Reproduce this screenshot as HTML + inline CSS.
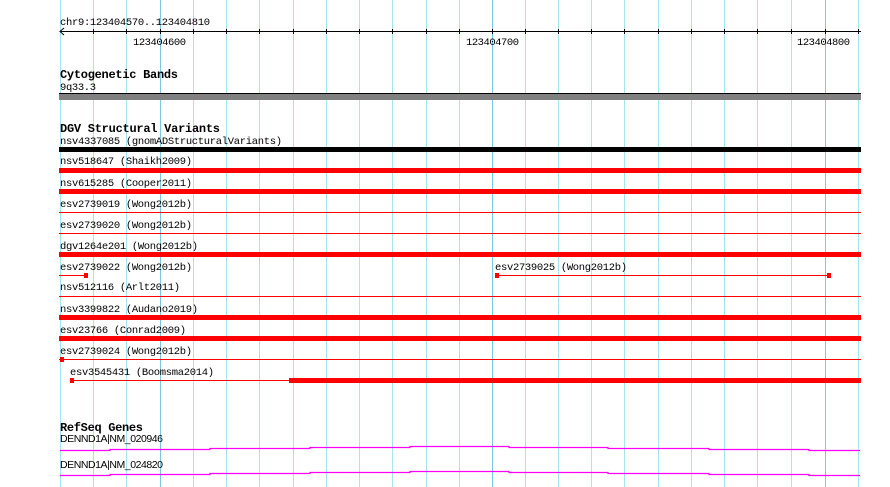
<!DOCTYPE html>
<html><head><meta charset="utf-8"><style>
html,body{margin:0;padding:0;background:#fff;}
svg{display:block;}
text{font-family:"Liberation Mono",monospace;font-size:10.5px;fill:#000;}
.b{font-weight:bold;font-size:12px;}
.g{font-family:"Liberation Sans",sans-serif;font-size:10.5px;}
</style></head><body>
<svg width="890" height="487" xmlns="http://www.w3.org/2000/svg">
<g stroke="#a8e4ec" stroke-width="1">
<line x1="60.5" y1="0" x2="60.5" y2="487"/><line x1="93.5" y1="0" x2="93.5" y2="487"/><line x1="126.5" y1="0" x2="126.5" y2="487"/>
<line x1="193.5" y1="0" x2="193.5" y2="487"/><line x1="226.5" y1="0" x2="226.5" y2="487"/><line x1="259.5" y1="0" x2="259.5" y2="487"/>
<line x1="293.5" y1="0" x2="293.5" y2="487"/><line x1="326.5" y1="0" x2="326.5" y2="487"/><line x1="359.5" y1="0" x2="359.5" y2="487"/>
<line x1="392.5" y1="0" x2="392.5" y2="487"/><line x1="426.5" y1="0" x2="426.5" y2="487"/><line x1="459.5" y1="0" x2="459.5" y2="487"/>
<line x1="525.5" y1="0" x2="525.5" y2="487"/><line x1="558.5" y1="0" x2="558.5" y2="487"/><line x1="591.5" y1="0" x2="591.5" y2="487"/>
<line x1="624.5" y1="0" x2="624.5" y2="487"/><line x1="658.5" y1="0" x2="658.5" y2="487"/><line x1="691.5" y1="0" x2="691.5" y2="487"/>
<line x1="724.5" y1="0" x2="724.5" y2="487"/><line x1="757.5" y1="0" x2="757.5" y2="487"/><line x1="791.5" y1="0" x2="791.5" y2="487"/>
<line x1="858.5" y1="0" x2="858.5" y2="487"/>
</g>
<g stroke="#7cc8e0" stroke-width="1">
<line x1="160.5" y1="0" x2="160.5" y2="487"/><line x1="492.5" y1="0" x2="492.5" y2="487"/><line x1="825.5" y1="0" x2="825.5" y2="487"/>
</g>
<text x="60" y="25" textLength="150">chr9:123404570..123404810</text>
<line x1="60" y1="31.5" x2="861" y2="31.5" stroke="#000"/>
<path d="M64 28 L60 31.5 L64 35" fill="none" stroke="#000"/>
<g stroke="#000">
<line x1="93.5" y1="29" x2="93.5" y2="34"/><line x1="126.5" y1="29" x2="126.5" y2="34"/><line x1="160.5" y1="29" x2="160.5" y2="34"/>
<line x1="193.5" y1="29" x2="193.5" y2="34"/><line x1="226.5" y1="29" x2="226.5" y2="34"/><line x1="259.5" y1="29" x2="259.5" y2="34"/>
<line x1="293.5" y1="29" x2="293.5" y2="34"/><line x1="326.5" y1="29" x2="326.5" y2="34"/><line x1="359.5" y1="29" x2="359.5" y2="34"/>
<line x1="392.5" y1="29" x2="392.5" y2="34"/><line x1="426.5" y1="29" x2="426.5" y2="34"/><line x1="459.5" y1="29" x2="459.5" y2="34"/>
<line x1="492.5" y1="29" x2="492.5" y2="34"/><line x1="525.5" y1="29" x2="525.5" y2="34"/><line x1="558.5" y1="29" x2="558.5" y2="34"/>
<line x1="591.5" y1="29" x2="591.5" y2="34"/><line x1="624.5" y1="29" x2="624.5" y2="34"/><line x1="658.5" y1="29" x2="658.5" y2="34"/>
<line x1="691.5" y1="29" x2="691.5" y2="34"/><line x1="724.5" y1="29" x2="724.5" y2="34"/><line x1="757.5" y1="29" x2="757.5" y2="34"/>
<line x1="791.5" y1="29" x2="791.5" y2="34"/><line x1="825.5" y1="29" x2="825.5" y2="34"/><line x1="858.5" y1="29" x2="858.5" y2="34"/>
</g>
<text x="133" y="45" textLength="53">123404600</text>
<text x="466" y="45" textLength="53">123404700</text>
<text x="797" y="45" textLength="53">123404800</text>

<text class="b" x="60" y="78" textLength="118">Cytogenetic Bands</text>
<text x="60" y="90" textLength="36">9q33.3</text>
<rect x="59" y="93" width="802" height="1" fill="#000"/>
<rect x="59" y="94" width="802" height="6" fill="#808080"/>

<text class="b" x="60" y="132" textLength="160">DGV Structural Variants</text>
<text x="60" y="144" textLength="222">nsv4337085 (gnomADStructuralVariants)</text>
<rect x="59" y="147" width="802" height="5" fill="#000"/>
<text x="60" y="164" textLength="132">nsv518647 (Shaikh2009)</text>
<rect x="59" y="168" width="802" height="5" fill="#f00"/>
<text x="60" y="186" textLength="132">nsv615285 (Cooper2011)</text>
<rect x="59" y="189" width="802" height="5" fill="#f00"/>
<text x="60" y="207" textLength="132">esv2739019 (Wong2012b)</text>
<rect x="59" y="212" width="802" height="1" fill="#f00"/>
<text x="60" y="228" textLength="132">esv2739020 (Wong2012b)</text>
<rect x="59" y="233" width="802" height="1" fill="#f00"/>
<text x="60" y="249" textLength="138">dgv1264e201 (Wong2012b)</text>
<rect x="59" y="252" width="802" height="5" fill="#f00"/>
<text x="60" y="270" textLength="132">esv2739022 (Wong2012b)</text>
<rect x="59" y="275" width="27" height="1" fill="#f00"/>
<rect x="84" y="273" width="4" height="5" fill="#f00"/>
<text x="495" y="270" textLength="132">esv2739025 (Wong2012b)</text>
<rect x="495" y="275" width="334" height="1" fill="#f00"/>
<rect x="495" y="273" width="4" height="5" fill="#f00"/>
<rect x="827" y="273" width="4" height="5" fill="#f00"/>
<text x="60" y="290" textLength="120">nsv512116 (Arlt2011)</text>
<rect x="59" y="296" width="802" height="1" fill="#f00"/>
<text x="60" y="312" textLength="138">nsv3399822 (Audano2019)</text>
<rect x="59" y="315" width="802" height="5" fill="#f00"/>
<text x="60" y="333" textLength="126">esv23766 (Conrad2009)</text>
<rect x="59" y="336" width="802" height="5" fill="#f00"/>
<text x="60" y="354" textLength="132">esv2739024 (Wong2012b)</text>
<rect x="59" y="359" width="802" height="1" fill="#f00"/>
<rect x="60" y="357" width="4" height="5" fill="#f00"/>
<text x="70" y="375" textLength="144">esv3545431 (Boomsma2014)</text>
<rect x="70" y="380" width="220" height="1" fill="#f00"/>
<rect x="70" y="378" width="4" height="5" fill="#f00"/>
<rect x="289" y="378" width="572" height="5" fill="#f00"/>

<text class="b" x="60" y="431" textLength="83">RefSeq Genes</text>
<text class="g" x="60" y="442" textLength="103">DENND1A|NM_020946</text>
<text class="g" x="60" y="468" textLength="103">DENND1A|NM_024820</text>
<path d="M60 450.5 H110 V449.5 H210 V448.5 H310 V447.5 H410 V446.5 H509 V447.5 H608 V448.5 H709 V449.5 H809 V450.5 H860" fill="none" stroke="#f0f" stroke-width="1.2"/>
<path d="M60 475.5 H110 V474.5 H210 V473.5 H310 V472.5 H410 V471.5 H509 V472.5 H608 V473.5 H709 V474.5 H809 V475.5 H860" fill="none" stroke="#f0f" stroke-width="1.2"/>
</svg>
</body></html>
